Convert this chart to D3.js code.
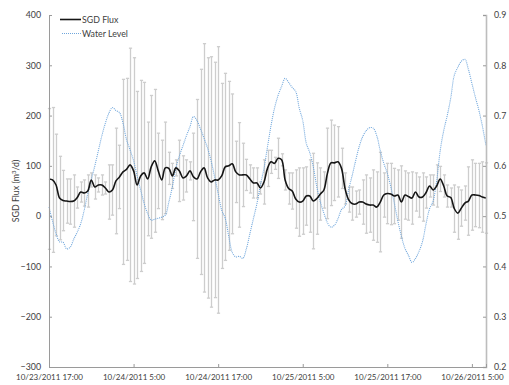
<!DOCTYPE html>
<html><head><meta charset="utf-8">
<script src="https://cdn.jsdelivr.net/npm/d3@7"></script>
<style>
html,body{margin:0;padding:0;background:#fff;}
svg text{font-family:Lato,"Open Sans",sans-serif;fill:#404040;}
</style></head>
<body>
<svg id="chart" width="509" height="385"></svg>
<script>
// ---- data (30-min intervals starting 10/23/2011 17:00) ----
const startTime = "10/23/2011 17:00";
const stepMinutes = 30;
const sgdFlux = [74,72,62,36,31,30,29,30,37,48, 46,50,72,58,62,62,56,48,52,70,
 78,88,93,102,90,62,80,86,74,98, 110,90,72,96,95,80,96,90,76,80,
 90,78,74,88,96,76,68,72,72,80, 98,100,104,88,82,82,82,74,66,66,
 56,68,95,108,105,115,112,72,55,50, 34,28,30,40,40,30,35,44,52,85,
 106,106,108,95,55,33,25,24,28,28, 24,22,22,18,28,42,45,44,40,42,
 28,42,39,36,48,38,38,47,60,52, 60,74,60,40,37,15,6,16,26,30,
 42,42,41,38,36];
const sgdError = [140,144,101,83,60,44,45,52,21,20, 26,32,14,24,14,20,12,54,50,105,
 63,184,181,232,225,186,190,180,113,142, 142,75,79,91,32,25,16,61,44,32,
 18,87,158,204,247,239,249,234,265,184, 186,168,139,61,104,63,31,28,30,30,
 12,44,36,23,12,40,12,20,31,36, 58,68,66,58,72,95,71,52,36,90,
 85,75,70,40,31,25,33,26,24,44, 58,54,70,70,99,44,60,61,55,50,
 72,48,47,52,38,40,48,31,22,30, 42,25,22,22,19,47,52,36,34,68,
 70,63,64,70,70];
const waterLevel = [0.518,0.49,0.465,0.449,0.448,0.435,0.438,0.454,0.468,0.485,
 0.512,0.545,0.572,0.6,0.63,0.66,0.685,0.705,0.716,0.71,
 0.706,0.685,0.652,0.632,0.61,0.58,0.552,0.525,0.505,0.492,
 0.494,0.496,0.498,0.502,0.528,0.558,0.595,0.62,0.64,0.66,
 0.678,0.698,0.69,0.673,0.655,0.635,0.61,0.578,0.545,0.512,
 0.496,0.46,0.428,0.419,0.42,0.416,0.435,0.465,0.495,0.525,
 0.562,0.595,0.638,0.68,0.715,0.74,0.758,0.774,0.766,0.756,
 0.748,0.715,0.69,0.645,0.626,0.598,0.558,0.528,0.506,0.487,
 0.478,0.482,0.495,0.513,0.52,0.552,0.58,0.61,0.638,0.658,
 0.67,0.676,0.675,0.66,0.63,0.605,0.585,0.558,0.525,0.49,
 0.46,0.436,0.422,0.408,0.416,0.43,0.45,0.485,0.515,0.53,
 0.57,0.63,0.67,0.7,0.735,0.78,0.796,0.808,0.812,0.792,
 0.764,0.736,0.71,0.678,0.64];
const xTickLabels = ["10/23/2011 17:00","10/24/2011 5:00","10/24/2011 17:00","10/25/2011 5:00","10/25/2011 17:00","10/26/2011 5:00"];
const xDomainLabels = ["10/23/2011 17:00","10/26/2011 7:00"];
const leftTicks = [-300,-200,-100,0,100,200,300,400];
const rightTicks = [0.2,0.3,0.4,0.5,0.6,0.7,0.8,0.9];
const seriesNames = ["SGD Flux","Water Level"];

// ---- chart ----
const parse = d3.timeParse("%m/%d/%Y %H:%M");
const t0 = parse(startTime);
const times = sgdFlux.map((_, i) => new Date(t0.getTime() + i * stepMinutes * 60000));
const fluxData = sgdFlux.map((v, i) => ({t: times[i], v, e: sgdError[i]}));
const waterData = waterLevel.map((w, i) => ({t: times[i], w}));

const svg = d3.select("#chart");
const L = 49, R = 486, T = 15, B = 367;
const x = d3.scaleTime().domain(xDomainLabels.map(parse)).range([L, R]);
const yL = d3.scaleLinear().domain([-300, 400]).range([B, T]);
const yR = d3.scaleLinear().domain([0.2, 0.9]).range([B, T]);

// error bars
const eb = svg.append("g").attr("stroke", "#cdcdcd").attr("stroke-width", 1.3);
fluxData.forEach(d => {
  const xx = Math.round(x(d.t)) + 0.5;
  const y1 = yL(d.v + d.e), y2 = yL(d.v - d.e);
  eb.append("line").attr("x1", xx).attr("x2", xx).attr("y1", y1).attr("y2", y2);
  eb.append("line").attr("x1", xx - 1.6).attr("x2", xx + 1.6).attr("y1", y1).attr("y2", y1);
  eb.append("line").attr("x1", xx - 1.6).attr("x2", xx + 1.6).attr("y1", y2).attr("y2", y2);
});

// water level (secondary axis)
svg.append("path").datum(waterData)
  .attr("fill", "none").attr("stroke", "#6fa6dc").attr("stroke-width", 1.1)
  .attr("stroke-dasharray", "1,1")
  .attr("d", d3.line().x(d => x(d.t)).y(d => yR(d.w)).curve(d3.curveCatmullRom.alpha(0.5)));

// SGD flux line
svg.append("path").datum(fluxData)
  .attr("fill", "none").attr("stroke", "#151515").attr("stroke-width", 1.6)
  .attr("d", d3.line().x(d => x(d.t)).y(d => yL(d.v)).curve(d3.curveCatmullRom.alpha(0.5)));

// axes
const axisColor = "#9a9a9a";
const gL = svg.append("g").attr("transform", `translate(${L},0)`)
  .call(d3.axisRight(yL).tickValues(leftTicks).tickSize(3).tickFormat(d3.format("d")));
gL.selectAll("text").attr("x", -8).attr("text-anchor", "end").style("font-size", "8.8px");
const gR = svg.append("g").attr("transform", `translate(${R},0)`)
  .call(d3.axisLeft(yR).tickValues(rightTicks).tickSize(3).tickFormat(d3.format(".1f")));
gR.selectAll("text").attr("x", 8).attr("text-anchor", "start").style("font-size", "8.8px");
const gX = svg.append("g").attr("transform", `translate(0,${B})`)
  .call(d3.axisTop(x).tickValues(xTickLabels.map(parse)).tickSize(3).tickFormat((d, i) => xTickLabels[i]));
gX.selectAll("text").attr("y", 13).attr("dy", 0).style("font-size", "9px");
[gL, gR, gX].forEach(g => {
  g.select(".domain").attr("stroke", axisColor);
  g.selectAll(".tick line").attr("stroke", axisColor);
  g.selectAll("text").attr("fill", "#404040").style("font-family", "Lato, sans-serif");
});
gR.select(".domain").attr("stroke", "#bdbdbd").attr("stroke-width", 1.6);
// fit the date labels to the reference width
const w0 = gX.select(".tick text").node().getComputedTextLength();
if (w0 > 0) gX.selectAll("text").style("font-size", Math.min(9, 9 * 67 / w0).toFixed(2) + "px");

// y title
const title = svg.append("text").attr("transform", "translate(19,191) rotate(-90)")
  .attr("text-anchor", "middle").style("font-size", "8.8px");
title.append("tspan").text("SGD Flux (m");
title.append("tspan").text("3").attr("dy", -3).style("font-size", "6px");
title.append("tspan").text("/d)").attr("dy", 3);

// legend
const lg = svg.append("g");
lg.append("line").attr("x1", 60).attr("x2", 81).attr("y1", 19.5).attr("y2", 19.5)
  .attr("stroke", "#151515").attr("stroke-width", 1.6);
lg.append("text").attr("x", 82).attr("y", 23).style("font-size", "8.8px").text(seriesNames[0]);
lg.append("line").attr("x1", 62).attr("x2", 81).attr("y1", 33.5).attr("y2", 33.5)
  .attr("stroke", "#6fa6dc").attr("stroke-width", 1.1).attr("stroke-dasharray", "1,1");
lg.append("text").attr("x", 82).attr("y", 37).style("font-size", "8.8px").text(seriesNames[1]);
</script>
</body></html>
